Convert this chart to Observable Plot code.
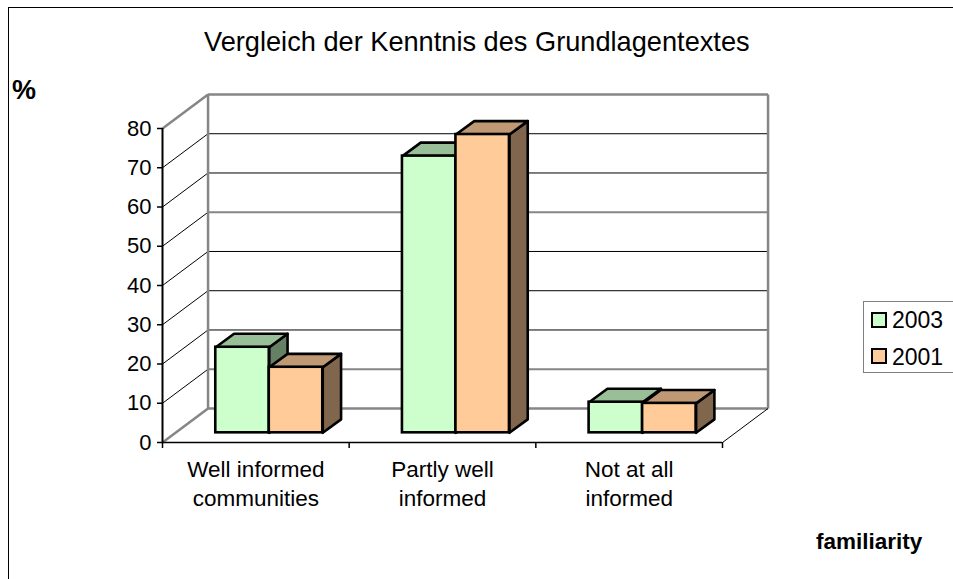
<!DOCTYPE html>
<html><head><meta charset="utf-8">
<script src="https://cdn.jsdelivr.net/npm/d3@7"></script>
<script src="https://cdn.jsdelivr.net/npm/@observablehq/plot@0.6"></script>
<style>
html,body{margin:0;padding:0;background:#fff;overflow:hidden}
#wrap{position:relative;width:953px;height:579px;font-family:"Liberation Sans",Arial,sans-serif;color:#000;overflow:hidden}
#wrap svg{position:absolute;left:0;top:0;overflow:visible}
#border{position:absolute;left:8px;top:7px;width:960px;height:590px;border:1px solid #000;box-sizing:border-box}
.t{position:absolute;white-space:nowrap;line-height:1}
#legend{position:absolute;left:863px;top:301px;width:110px;height:72px;border:1px solid #808080;box-sizing:border-box;background:#fff}
.sw{position:absolute;left:7px;width:16px;height:16px;border:2px solid #000;box-sizing:border-box}
.lt{position:absolute;left:28px;font-size:23px;line-height:1;white-space:nowrap}
</style></head><body>
<div id="wrap">
<div id="border"></div>
<div id="plot"></div>
<div class="t" id="title" style="left:204px;top:28px;font-size:27.2px">Vergleich der Kenntnis des Grundlagentextes</div>
<div class="t" style="left:12px;top:77px;font-size:27px;font-weight:bold">%</div>
<div class="t" style="left:816px;top:531px;font-size:22.5px;font-weight:bold">familiarity</div>
<div id="legend"></div>
</div>
<script>
const categories = ["Well informed\ncommunities", "Partly well\ninformed", "Not at all\ninformed"];
const years = ["2003", "2001"];
const values2003 = [21.8, 70.5, 7.8];
const values2001 = [16.7, 76, 7.5];
const yTicks = [0, 10, 20, 30, 40, 50, 60, 70, 80];
const edgeLevels = [0, 80];
const greyLevels = [10, 50];   // gridlines that appear soft grey in the reference
const frontColors = ["#CCFFCC", "#FFCC99"];
const topColors = ["#99BF99", "#BF9973"];
const sideColors = ["#668066", "#80664D"];

// 3-D projection expressed in data units
const wallX = 0.244, wallY = 8.67;
const gap = 0.212, barW = 0.2866;
const floorX = 0.0734, floorY = 2.47;
const depthX = 0.098, depthY = 3.42;

const ink = "#000", grey = "#868686";
const inner = yTicks.filter(v => !edgeLevels.includes(v));
const black = inner.filter(v => !greyLevels.includes(v));

function faces(values, s) {
  const side = [], top = [], front = [];
  values.forEach((v, i) => {
    const x1 = i + gap + floorX + s * barW, x2 = x1 + barW, y1 = floorY, y2 = floorY + v;
    side.push(...[[x2, y1], [x2 + depthX, y1 + depthY], [x2 + depthX, y2 + depthY], [x2, y2], [x2, y1]].map(([x, y]) => ({x, y, k: i})));
    top.push(...[[x1, y2], [x1 + depthX, y2 + depthY], [x2 + depthX, y2 + depthY], [x2, y2], [x1, y2]].map(([x, y]) => ({x, y, k: i})));
    front.push({x1, x2, y1, y2});
  });
  return {side, top, front};
}
function barMarks(values, s) {
  const f = faces(values, s);
  const common = {x: "x", y: "y", z: "k", stroke: ink, strokeWidth: 2.6, strokeLinejoin: "round"};
  return [
    Plot.line(f.side, {...common, fill: sideColors[s]}),
    Plot.line(f.top, {...common, fill: topColors[s]}),
    Plot.rect(f.front, {x1: "x1", x2: "x2", y1: "y1", y2: "y2", fill: frontColors[s], stroke: ink, strokeWidth: 2.6})
  ];
}

const plot = Plot.plot({
  width: 953, height: 579,
  marginLeft: 162, marginRight: 231, marginTop: 128, marginBottom: 137,
  style: {fontFamily: "'Liberation Sans', Arial, sans-serif", color: "#000", background: "transparent"},
  x: {domain: [0, 3], axis: null},
  y: {domain: [0, 80], axis: null},
  marks: [
    // side wall gridlines
    Plot.link(inner, {x1: 0, x2: wallX, y1: d => d, y2: d => d + wallY, stroke: ink, strokeWidth: 1}),
    Plot.link(edgeLevels, {x1: 0, x2: wallX, y1: d => d, y2: d => d + wallY, stroke: grey, strokeWidth: 2.5}),
    // back wall gridlines
    Plot.link(black, {x1: wallX, x2: 3 + wallX, y1: d => d + wallY, y2: d => d + wallY, stroke: ink, strokeWidth: 1}),
    Plot.link(greyLevels, {x1: wallX, x2: 3 + wallX, y1: d => d + wallY, y2: d => d + wallY, stroke: grey, strokeWidth: 2}),
    Plot.link(edgeLevels, {x1: wallX, x2: 3 + wallX, y1: d => d + wallY, y2: d => d + wallY, stroke: grey, strokeWidth: 2.5}),
    Plot.link([wallX, 3 + wallX], {x1: d => d, x2: d => d, y1: wallY, y2: 80 + wallY, stroke: grey, strokeWidth: 2.5}),
    // floor right edge
    Plot.link([3], {x1: d => d, x2: d => d + wallX, y1: 0, y2: wallY, stroke: ink, strokeWidth: 1}),
    // bars
    ...barMarks(values2003, 0),
    ...barMarks(values2001, 1),
    // front axes
    Plot.ruleX([0], {stroke: ink, strokeWidth: 2}),
    Plot.ruleY([0], {stroke: ink, strokeWidth: 1.5}),
    Plot.axisY({ticks: yTicks, anchor: "left", tickSize: 5, tickPadding: 6, fontSize: 22, label: null, stroke: ink, strokeWidth: 1.5, dy: 0, textStroke: "none"}),
    Plot.axisX({ticks: [0, 1, 2, 3], anchor: "bottom", tickSize: 6, tickFormat: () => "", label: null, stroke: ink, strokeWidth: 1.5}),
    Plot.text(categories, {x: (d, i) => i + 0.5, y: 0, text: d => d, lineAnchor: "top", dy: 13.5, fontSize: 22.5, lineHeight: 1.3, textAnchor: "middle", fill: ink})
  ]
});
document.getElementById("plot").appendChild(plot);

const legend = document.getElementById("legend");
years.forEach((y, i) => {
  const top = 10 + i * 36;
  const sw = document.createElement("div");
  sw.className = "sw"; sw.style.top = top + "px"; sw.style.background = frontColors[i];
  const t = document.createElement("div");
  t.className = "lt"; t.style.top = (top - 3 + i) + "px"; t.textContent = y;
  legend.append(sw, t);
});
</script>
</body></html>
